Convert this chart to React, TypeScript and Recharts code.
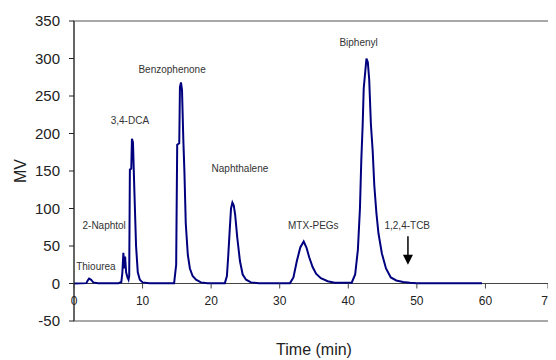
import React from "react";
import {
  LineChart,
  Line,
  XAxis,
  YAxis,
  ReferenceLine,
  ReferenceArea,
  ReferenceDot,
} from "recharts";

// retention time (min) and detector signal (mV)
const time = [
  0, 1.8, 2.0, 2.2, 2.5, 2.8, 3.5, 5.0, 6.5, 6.9, 7.05, 7.2, 7.35, 7.45, 7.6, 7.8, 7.95, 8.05,
  8.15, 8.35, 8.45, 8.6, 8.8, 8.95, 9.05, 9.3, 9.6, 10.0, 11.0, 14.6, 14.9, 15.05, 15.35, 15.45,
  15.6, 15.75, 15.95, 16.1, 16.3, 16.6, 16.9, 17.3, 17.8, 18.5, 19.5, 22.0, 22.3, 22.5, 22.7,
  22.9, 23.1, 23.3, 23.5, 23.8, 24.2, 24.6, 25.1, 25.8, 27.0, 31.5, 32.0, 32.5, 33.0, 33.5, 33.9,
  34.3, 34.8, 35.3, 36.0, 37.0, 38.0, 40.5, 41.0, 41.4, 41.7, 41.9, 42.1, 42.25, 42.5, 42.65,
  42.85, 43.05, 43.3, 43.55, 43.8, 44.1, 44.4, 44.9, 45.5, 46.2, 47.0, 48.0, 49.0, 50.0, 59.5,
];
const signal = [
  0, 0.5, 4, 6.5, 5, 1.5, 0.5, 0.5, 0.5, 2, 14, 41, 20, 36, 15, 8, 5, 10,
  152, 153, 193, 188, 125, 80, 50, 15, 5, 1.5, 0.5, 0.5, 25, 185, 187, 262,
  268, 258, 190, 150, 80, 38, 20, 10, 5, 1.5, 0.5, 0.5, 10, 38, 70,
  100, 108, 104, 92, 62, 30, 12, 5, 1.5, 0.5, 0.5, 8, 30, 48, 56, 48,
  35, 22, 13, 7, 3, 1, 1, 12, 45, 100, 165, 212, 260, 285, 300,
  295, 272, 212, 178, 130, 94, 67, 40, 20, 8, 4, 2, 1, 0.5, 0.5,
];

const xTicks = [0, 10, 20, 30, 40, 50, 60, 70];
const yTicks = [-50, 0, 50, 100, 150, 200, 250, 300, 350];

// peak labels: name, time, signal level of the label
const peakNames = ["Thiourea", "2-Naphtol", "3,4-DCA", "Benzophenone", "Naphthalene", "MTX-PEGs", "Biphenyl", "1,2,4-TCB"];
const peakTimes = [3.2, 4.4, 8.15, 14.3, 24.2, 34.9, 41.5, 48.6];
const peakLevels = [23, 77, 218, 286, 154, 78, 322, 78];

const arrowTime = 48.7;
const arrowFrom = 63;
const arrowTo = 25;

const data = time.map((t, i) => ({ t, mv: signal[i] }));

const PLOT_H = 300;
const ZERO_OFFSET = (PLOT_H * 50) / 400;

const XTick = (props: any) => {
  const { x, y, payload } = props;
  const y0 = y - ZERO_OFFSET;
  return (
    <g>
      <line x1={x} x2={x} y1={y0} y2={y0 + 5} stroke="#444" />
      <text x={x} y={y0 + 13} dy="0.71em" textAnchor="middle" fontSize={12} fill="#222">
        {payload.value}
      </text>
    </g>
  );
};

export default function App() {
  return (
    <div style={{ width: 548, height: 352, overflow: "hidden", fontFamily: "'Liberation Sans', Arial, sans-serif" }}>
      <LineChart width={548} height={352} data={data} margin={{ top: 13, right: 2, left: 0, bottom: 0 }}>
        <ReferenceArea
          x1={0}
          x2={70}
          y1={-50}
          y2={350}
          fill="none"
          stroke="#8c8c8c"
          strokeWidth={1.5}
          ifOverflow="visible"
        />
        <XAxis
          dataKey="t"
          type="number"
          domain={[0, 70]}
          ticks={xTicks}
          axisLine={false}
          tickLine={false}
          tickSize={0}
          tickMargin={0}
          height={39}
          tick={<XTick />}
          label={{ value: "Time (min)", position: "insideBottom", offset: 5, fontSize: 16, fill: "#222" }}
        />
        <YAxis
          type="number"
          domain={[-50, 350]}
          ticks={yTicks}
          width={66}
          stroke="#222"
          tickSize={5}
          tickMargin={9}
          tick={{ fontSize: 15, fill: "#222" }}
          label={{
            value: "MV",
            angle: -90,
            position: "insideLeft",
            offset: 12,
            fontSize: 16,
            fill: "#222",
            style: { textAnchor: "middle" },
          }}
        />
        <ReferenceLine y={0} stroke="#444" />
        <Line
          dataKey="mv"
          type="linear"
          stroke="#00007f"
          strokeWidth={2}
          dot={false}
          isAnimationActive={false}
        />
        {peakNames.map((name, i) => (
          <ReferenceDot
            key={name}
            x={peakTimes[i]}
            y={peakLevels[i]}
            r={0}
            ifOverflow="visible"
            shape={(p: any) => (
              <text x={p.cx} y={p.cy} textAnchor="middle" dominantBaseline="central" fontSize={10} fill="#333">
                {name}
              </text>
            )}
          />
        ))}
        <ReferenceLine
          segment={[
            { x: arrowTime, y: arrowFrom },
            { x: arrowTime, y: arrowTo + 8 },
          ]}
          stroke="#000"
          strokeWidth={1.5}
        />
        <ReferenceDot
          x={arrowTime}
          y={arrowTo}
          r={0}
          ifOverflow="visible"
          shape={(p: any) => (
            <path d={`M${p.cx},${p.cy} L${p.cx - 5},${p.cy - 10} L${p.cx + 5},${p.cy - 10} Z`} fill="#000" />
          )}
        />
      </LineChart>
    </div>
  );
}
